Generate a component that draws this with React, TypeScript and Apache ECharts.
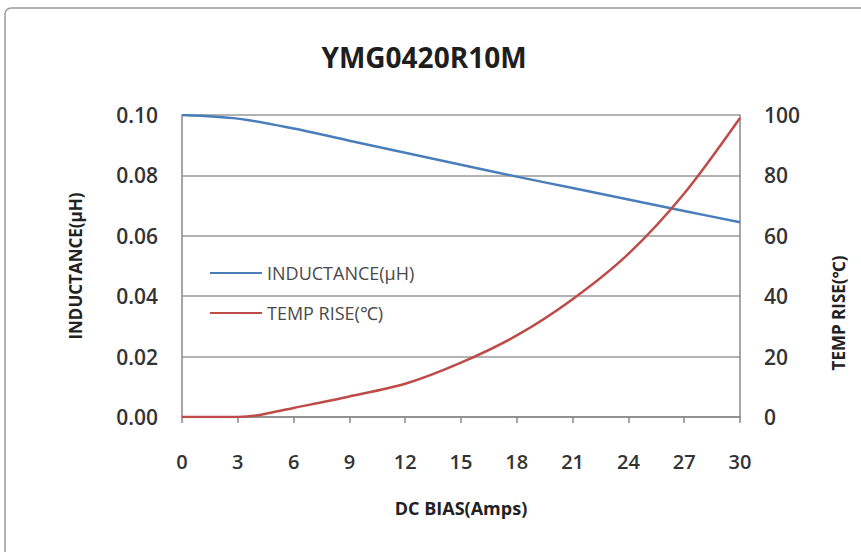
import React, { useEffect, useRef } from "react";
import * as echarts from "echarts";

const xTicks = [0, 3, 6, 9, 12, 15, 18, 21, 24, 27, 30];
const biasAmps = [0, 3, 6, 9, 12, 15, 18, 21, 24, 27, 30];
const inductance = [0.1, 0.0988, 0.0955, 0.0915, 0.0875, 0.0835, 0.0796, 0.0758, 0.072, 0.0682, 0.0645];
const tempBias = [0, 3, 4, 6, 9, 12, 15, 18, 21, 24, 27, 30];
const tempRise = [0, 0, 0.5, 3, 6.8, 11, 18, 27, 39, 54, 74, 99];

const FONT = "'Open Sans', 'Noto Sans', sans-serif";
const BLUE = "#4a7ebb";
const RED = "#be4b48";

export default function App() {
  const ref = useRef<HTMLDivElement>(null);
  useEffect(() => {
    if (!ref.current) return;
    const chart = echarts.init(ref.current, undefined, { renderer: "svg" });
    chart.setOption({
      animation: false,
      backgroundColor: "#ffffff",
      title: {
        text: "YMG0420R10M",
        left: 419,
        top: 38,
        textAlign: "center",
        textStyle: { fontFamily: FONT, fontWeight: "bold", fontSize: 28, color: "#1e1e1e" },
      },
      graphic: [
        {
          type: "rect",
          shape: { x: 5, y: 8, width: 900, height: 600, r: 6 },
          style: { fill: "none", stroke: "#9a9a9a", lineWidth: 1.5 },
          silent: true,
          z: -1,
        },
        {
          type: "text",
          x: 838,
          y: 313,
          rotation: Math.PI / 2,
          style: {
            text: "TEMP RISE(℃)",
            fontFamily: FONT,
            fontWeight: "bold",
            fontSize: 17,
            fill: "#222",
            align: "center",
            verticalAlign: "middle",
          },
        },
      ],
      legend: {
        left: 205,
        top: 259,
        orient: "vertical",
        itemWidth: 52,
        itemHeight: 2,
        itemGap: 22,
        textStyle: { fontFamily: FONT, fontSize: 18, color: "#4a4a4a" },
        data: [
          { name: "INDUCTANCE(μH)", icon: "rect", itemStyle: { color: BLUE } },
          { name: "TEMP RISE(℃)", icon: "rect", itemStyle: { color: RED } },
        ],
      },
      grid: { left: 182, right: 121, top: 115, bottom: 135 },
      xAxis: {
        type: "value",
        min: 0,
        max: 30,
        interval: 3,
        name: "DC BIAS(Amps)",
        nameLocation: "middle",
        nameGap: 82,
        nameTextStyle: { fontFamily: FONT, fontWeight: "bold", fontSize: 18, color: "#222" },
        axisLine: { show: true, lineStyle: { color: "#888", width: 1.5 } },
        axisTick: { show: true, length: 6, lineStyle: { color: "#888", width: 1.5 } },
        axisLabel: {
          fontFamily: FONT,
          fontWeight: 600,
          fontSize: 20,
          color: "#333",
          margin: 34,
          formatter: (v: number) => (xTicks.includes(v) ? String(v) : ""),
        },
        splitLine: { show: false },
      },
      yAxis: [
        {
          type: "value",
          min: 0,
          max: 0.1,
          interval: 0.02,
          position: "left",
          name: "INDUCTANCE(μH)",
          nameLocation: "middle",
          nameRotate: 90,
          nameGap: 98,
          nameTextStyle: { fontFamily: FONT, fontWeight: "bold", fontSize: 17, color: "#222" },
          axisLine: { show: true, lineStyle: { color: "#888", width: 1.5 } },
          axisTick: { show: false },
          axisLabel: {
            fontFamily: FONT,
            fontWeight: 600,
            fontSize: 21,
            color: "#333",
            margin: 24,
            formatter: (v: number) => v.toFixed(2),
          },
          splitLine: { show: true, lineStyle: { color: "#999", width: 1.5 } },
        },
        {
          type: "value",
          min: 0,
          max: 100,
          interval: 20,
          position: "right",
          axisLine: { show: true, lineStyle: { color: "#888", width: 1.5 } },
          axisTick: { show: false },
          axisLabel: { fontFamily: FONT, fontWeight: 600, fontSize: 21, color: "#333", margin: 24 },
          splitLine: { show: false },
        },
      ],
      series: [
        {
          name: "INDUCTANCE(μH)",
          type: "line",
          yAxisIndex: 0,
          smooth: 0.3,
          symbol: "none",
          lineStyle: { color: BLUE, width: 2.5 },
          itemStyle: { color: BLUE },
          data: biasAmps.map((x, i) => [x, inductance[i]]),
        },
        {
          name: "TEMP RISE(℃)",
          type: "line",
          yAxisIndex: 1,
          smooth: 0.3,
          symbol: "none",
          lineStyle: { color: RED, width: 2.5 },
          itemStyle: { color: RED },
          data: tempBias.map((x, i) => [x, tempRise[i]]),
        },
      ],
    });
    return () => chart.dispose();
  }, []);
  return <div ref={ref} style={{ width: 861, height: 552, position: "absolute", left: 0, top: 0 }} />;
}
